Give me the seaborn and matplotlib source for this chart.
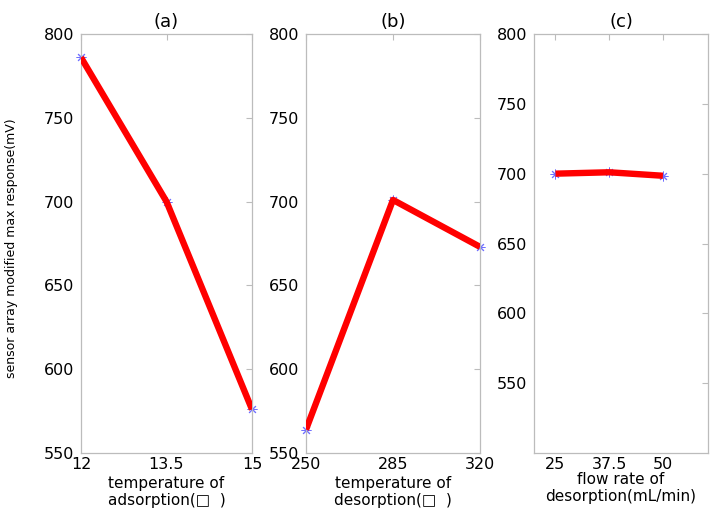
import matplotlib
matplotlib.use("Agg")
import matplotlib.pyplot as plt
import seaborn as sns
import pandas as pd

# data
ads_temp = [12, 13.5, 15]
ads_resp = [786, 700, 576]
des_temp = [250, 285, 320]
des_resp = [564, 701, 673]
flow_rate = [25, 37.5, 50]
flow_resp = [700, 701, 698.5]

titles = ["(a)", "(b)", "(c)"]
xlabels = ["temperature of\nadsorption(\u25a1  )",
           "temperature of\ndesorption(\u25a1  )",
           "flow rate of\ndesorption(mL/min)"]
ylabel = "sensor array modified max response(mV)"
xticks_list = [[12, 13.5, 15], [250, 285, 320], [25, 37.5, 50]]
xticklabels_list = [["12", "13.5", "15"], ["250", "285", "320"], ["25", "37.5", "50"]]
yticks_ab = [550, 600, 650, 700, 750, 800]
yticks_c = [550, 600, 650, 700, 750, 800]

sns.set_theme(style="white")
plt.rcParams['font.family'] = ['DejaVu Sans']
plt.rcParams['text.color'] = 'black'
plt.rcParams['axes.labelcolor'] = 'black'

fig = plt.figure(figsize=(7.18, 5.21), dpi=100)
positions = [
    [81/718, 1-453/521, 171/718, 419/521],
    [306/718, 1-453/521, 174/718, 419/521],
    [534/718, 1-453/521, 174/718, 419/521],
]
xlims = [(12, 15), (250, 320), (20, 60.5)]
ylims = [(550, 800), (550, 800), (500, 800)]
datasets = [(ads_temp, ads_resp), (des_temp, des_resp), (flow_rate, flow_resp)]
grey = "#bcbcbc"

for i in range(3):
    ax = fig.add_axes(positions[i])
    x, y = datasets[i]
    df = pd.DataFrame({"x": x, "y": y})
    sns.lineplot(data=df, x="x", y="y", ax=ax, color="#ff0000", lw=4.6,
                 solid_capstyle="butt", zorder=3)
    ax.plot(x, y, linestyle="none", marker=(8, 2, 0), markersize=7,
            markeredgecolor="#7070ff", markerfacecolor="none",
            markeredgewidth=0.7, zorder=2, clip_on=False)
    ax.set_xlim(*xlims[i])
    ax.set_ylim(*ylims[i])
    ax.set_xticks(xticks_list[i])
    ax.set_xticklabels(xticklabels_list[i])
    ax.set_yticks(yticks_ab if i < 2 else yticks_c)
    ax.tick_params(direction="in", length=4, width=0.8, color=grey,
                   top=True, right=True, labelsize=11.5, pad=3,
                   labelcolor="black")
    ax.tick_params(axis="y", pad=5)
    for s in ax.spines.values():
        s.set_color(grey)
        s.set_linewidth(0.9)
    ax.set_title(titles[i], fontsize=13, pad=5, color="black")
    ax.set_xlabel(xlabels[i], fontsize=11, labelpad=(0 if i == 2 else 3),
                  linespacing=1.15, color="black")
    ax.set_ylabel("")
    ax.grid(False)

fig.text(12/718, 1-248/521, ylabel, rotation=90, fontsize=9,
         ha="center", va="center", color="black")

fig.savefig("out.png", dpi=100)
